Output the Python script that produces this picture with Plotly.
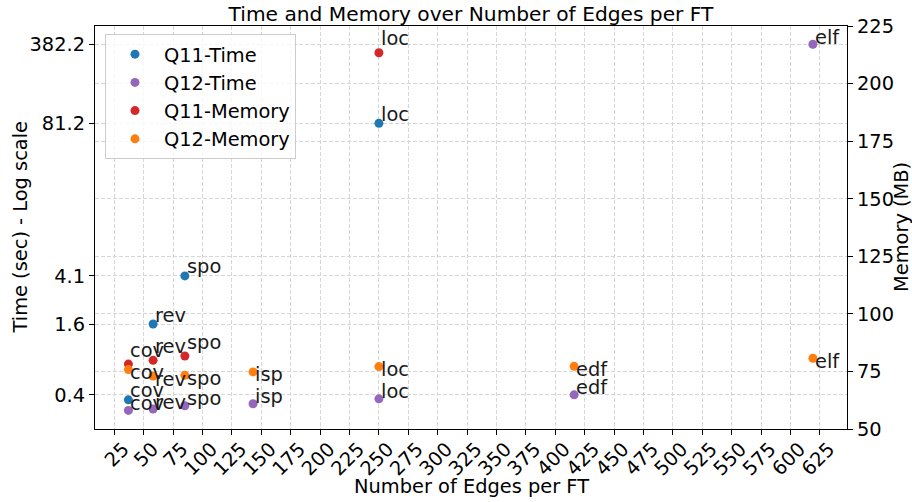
import numpy as np
import plotly.graph_objects as go

# ---- data ----
q11_edges = [37, 58, 85, 250]
q11_labels = ["cov", "rev", "spo", "loc"]
q11_time = [0.363, 1.6, 4.1, 81.2]
q11_mem = [78.2, 79.8, 81.7, 213.4]

q12_edges = [37, 58, 85, 143, 250, 416, 619]
q12_labels = ["cov", "rev", "spo", "isp", "loc", "edf", "elf"]
q12_time = [0.295, 0.303, 0.323, 0.336, 0.37, 0.4, 382.2]
q12_mem = [75.8, 73.0, 73.3, 74.8, 77.1, 77.2, 80.7]

time_ticks = [0.4, 1.6, 4.1, 81.2, 382.2]
time_tick_text = ["0.4", "1.6", "4.1", "81.2", "382.2"]

FONT = "DejaVu Sans"
FS = 19.4
FS_TITLE = 20.2
C_BLUE, C_PURPLE, C_RED, C_ORANGE = "#1f77b4", "#9467bd", "#d62728", "#ff7f0e"

# plot-area geometry (px)
L, R, T, B = 95, 65, 26, 73
W, H = 912, 502
PW, PH = W - L - R, H - T - B

fig = go.Figure()
series = [
    ("Q11-Time", q11_edges, q11_time, q11_labels, C_BLUE, "y", -3.5),
    ("Q12-Time", q12_edges, q12_time, q12_labels, C_PURPLE, "y", -5.5),
    ("Q11-Memory", q11_edges, q11_mem, q11_labels, C_RED, "y2", 1.5),
    ("Q12-Memory", q12_edges, q12_mem, q12_labels, C_ORANGE, "y2", -15.5),
]
annotations = []
for name, xs, ys, labs, col, yax, ysh in series:
    fig.add_trace(go.Scatter(
        x=xs, y=ys, mode="markers", name=name, yaxis=yax,
        marker=dict(color=col, size=9, line=dict(width=0)),
    ))
    for xv, yv, lab in zip(xs, ys, labs):
        yy = float(np.log10(yv)) if yax == "y" else yv
        annotations.append(dict(
            x=xv, y=yy, xref="x", yref=yax, text=lab, showarrow=False,
            xanchor="left", yanchor="bottom", xshift=1, yshift=ysh,
            font=dict(family=FONT, size=FS, color="#1a1a1a"), borderpad=0,
        ))

# axis titles as paper annotations
annotations += [
    dict(text="Number of Edges per FT", xref="paper", yref="paper",
         x=0.5, y=(H - B - 486) / PH, xanchor="center", yanchor="middle",
         showarrow=False, font=dict(family=FONT, size=FS, color="black")),
    dict(text="Time (sec) - Log scale", xref="paper", yref="paper",
         x=(20 - L) / PW, y=0.5, xanchor="center", yanchor="middle", textangle=-90,
         showarrow=False, font=dict(family=FONT, size=FS, color="black")),
    dict(text="Memory (MB)", xref="paper", yref="paper",
         x=(901.5 - L) / PW, y=0.5, xanchor="center", yanchor="middle", textangle=-90,
         showarrow=False, font=dict(family=FONT, size=FS, color="black")),
]

grid = dict(showgrid=True, gridcolor="#d6d6d6", griddash="4px,2px", gridwidth=1)
tickfont = dict(family=FONT, size=FS, color="black")

fig.update_layout(
    width=W, height=H,
    margin=dict(l=L, r=R, t=T, b=B),
    paper_bgcolor="white", plot_bgcolor="white",
    font=dict(family=FONT, size=FS, color="black"),
    title=dict(text="Time and Memory over Number of Edges per FT",
               x=(L + W - R) / 2 / W, xanchor="center", y=1 - 14 / H, yanchor="middle",
               font=dict(family=FONT, size=FS_TITLE, color="black")),
    showlegend=True,
    legend=dict(x=0.0133, y=0.98, xanchor="left", yanchor="top", itemwidth=48,
                bgcolor="rgba(255,255,255,0.8)", bordercolor="#cccccc", borderwidth=1,
                font=dict(family=FONT, size=FS, color="black")),
    annotations=annotations,
    xaxis=dict(
        range=[8.6, 648], tick0=25, dtick=25, tickangle=-45, ticklabelshift=9,
        ticklabelstandoff=-5,
        tickfont=tickfont,
        showline=True, linecolor="black", linewidth=1.2, mirror=True,
        ticks="outside", ticklen=5, tickcolor="black",
        zeroline=False, automargin=False, **grid,
    ),
    yaxis=dict(
        type="log", range=[-0.688, 2.737],
        tickvals=time_ticks, ticktext=time_tick_text, tickfont=tickfont,
        showline=True, linecolor="black", linewidth=1.2,
        ticks="outside", ticklen=5, tickcolor="black",
        zeroline=False, automargin=False, **grid,
    ),
    yaxis2=dict(
        overlaying="y", side="right", range=[50, 225], tick0=50, dtick=25,
        tickfont=tickfont,
        showline=True, linecolor="black", linewidth=1.2,
        ticks="outside", ticklen=5, tickcolor="black",
        zeroline=False, automargin=False, **grid,
    ),
)

fig.write_html("out.html", post_script="document.body.style.margin='0';",
               config={"displayModeBar": False})
